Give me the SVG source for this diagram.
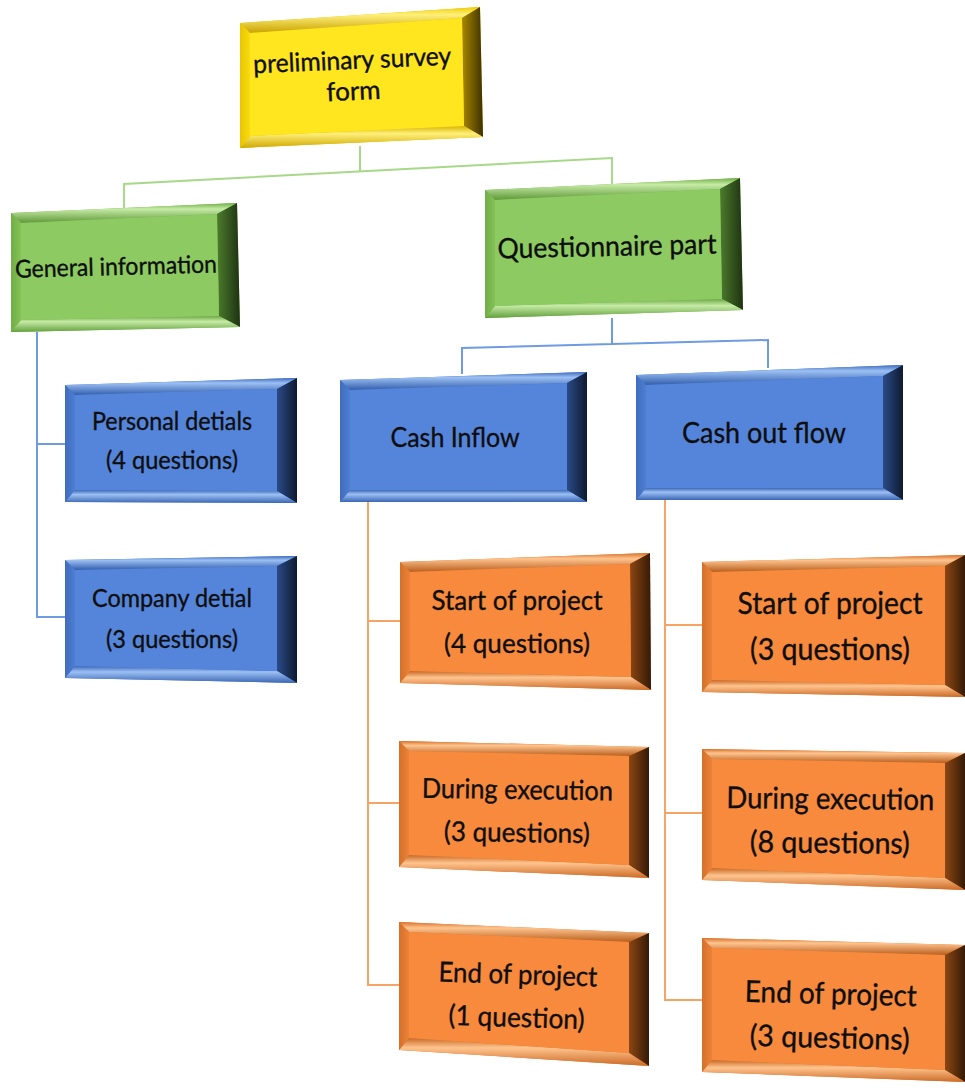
<svg xmlns="http://www.w3.org/2000/svg" width="965" height="1089" viewBox="0 0 965 1089">
<defs>
<style>
.t{font-family:Lato,"Liberation Sans",sans-serif;fill:#0E0E0E;stroke:#0E0E0E;stroke-width:0.35;text-anchor:middle}
.cg{fill:none;stroke:#A8D88A;stroke-width:2}
.cb{fill:none;stroke:#6F9BE2;stroke-width:2}
.co{fill:none;stroke:#F5A466;stroke-width:2}
.yF{fill:#FFE61E}.gF{fill:#8DCB62}.bF{fill:#5585DA}.oF{fill:#F78A3C}
.yB{fill:#E2C000}.gB{fill:#76B24C}.bB{fill:#4673C6}.oB{fill:#DC762C}
</style>
<linearGradient id="yTop" x1="0" y1="0" x2="0" y2="1"><stop offset="0" stop-color="#F0CC00"/><stop offset="0.3" stop-color="#FFF07A"/><stop offset="1" stop-color="#C9A200"/></linearGradient>
<linearGradient id="yBot" x1="0" y1="0" x2="0" y2="1"><stop offset="0" stop-color="#D8B400"/><stop offset="0.35" stop-color="#FFF07A"/><stop offset="1" stop-color="#D0A800"/></linearGradient>
<linearGradient id="yLeft" x1="0" y1="0" x2="1" y2="0"><stop offset="0" stop-color="#E8C400"/><stop offset="1" stop-color="#F8DC10"/></linearGradient>
<linearGradient id="yRight" x1="0" y1="0" x2="1" y2="0"><stop offset="0" stop-color="#A88800"/><stop offset="1" stop-color="#3E3000"/></linearGradient>
<linearGradient id="gTop" x1="0" y1="0" x2="0" y2="1"><stop offset="0" stop-color="#6FAE44"/><stop offset="0.3" stop-color="#C6EBA6"/><stop offset="1" stop-color="#5E9838"/></linearGradient>
<linearGradient id="gBot" x1="0" y1="0" x2="0" y2="1"><stop offset="0" stop-color="#6CA844"/><stop offset="0.35" stop-color="#C6EBA6"/><stop offset="1" stop-color="#62A03C"/></linearGradient>
<linearGradient id="gLeft" x1="0" y1="0" x2="1" y2="0"><stop offset="0" stop-color="#70AE46"/><stop offset="1" stop-color="#84C258"/></linearGradient>
<linearGradient id="gRight" x1="0" y1="0" x2="1" y2="0"><stop offset="0" stop-color="#4C7C2C"/><stop offset="1" stop-color="#1E3212"/></linearGradient>
<linearGradient id="bTop" x1="0" y1="0" x2="0" y2="1"><stop offset="0" stop-color="#3E6CBC"/><stop offset="0.3" stop-color="#9CC0F4"/><stop offset="1" stop-color="#325EAC"/></linearGradient>
<linearGradient id="bBot" x1="0" y1="0" x2="0" y2="1"><stop offset="0" stop-color="#3C68B8"/><stop offset="0.35" stop-color="#9CC0F4"/><stop offset="1" stop-color="#3A66B4"/></linearGradient>
<linearGradient id="bLeft" x1="0" y1="0" x2="1" y2="0"><stop offset="0" stop-color="#3F6CBE"/><stop offset="1" stop-color="#4E7ED2"/></linearGradient>
<linearGradient id="bRight" x1="0" y1="0" x2="1" y2="0"><stop offset="0" stop-color="#2A4A86"/><stop offset="1" stop-color="#0E1A30"/></linearGradient>
<linearGradient id="oTop" x1="0" y1="0" x2="0" y2="1"><stop offset="0" stop-color="#D8702A"/><stop offset="0.3" stop-color="#FFC48E"/><stop offset="1" stop-color="#B85E1E"/></linearGradient>
<linearGradient id="oBot" x1="0" y1="0" x2="0" y2="1"><stop offset="0" stop-color="#C86826"/><stop offset="0.35" stop-color="#FFC48E"/><stop offset="1" stop-color="#CC6A26"/></linearGradient>
<linearGradient id="oLeft" x1="0" y1="0" x2="1" y2="0"><stop offset="0" stop-color="#D4702A"/><stop offset="1" stop-color="#EC8238"/></linearGradient>
<linearGradient id="oRight" x1="0" y1="0" x2="1" y2="0"><stop offset="0" stop-color="#8C4614"/><stop offset="1" stop-color="#341A06"/></linearGradient>
</defs>

<g id="connectors">
<path class="cg" d="M360,146 V171 M124,209 V184 L612,158 V188"/>
<path class="cb" d="M612,318 V344 M462,374 V348 L768,340 V368"/>
<path class="cb" d="M37,332 V617 H66 M37,444 H66"/>
<path class="co" d="M368,502 V985 H400 M368,621 H400 M368,803 H400"/>
<path class="co" d="M665,500 V1000 H703 M665,625 H703 M665,813 H703"/>
</g>

<g id="node-preliminary">
<polygon class="yB" points="240,23 480,7 483,137 240,148"/>
<polygon fill="url(#yTop)" points="240,23 480,7 462,18 250,33"/>
<polygon fill="url(#yRight)" points="480,7 483,137 464,126 462,18"/>
<polygon fill="url(#yBot)" points="250,136 464,126 483,137 240,148"/>
<polygon fill="url(#yLeft)" points="240,23 250,33 250,136 240,148"/>
<polygon class="yF" points="250,33 462,18 464,126 250,136"/>
<g transform="rotate(-2.5 353 80)">
<text class="t" x="353" y="69" font-size="26" textLength="198" lengthAdjust="spacingAndGlyphs">preliminary survey</text>
<text class="t" x="353" y="100" font-size="26">form</text>
</g>
</g>

<g id="node-general">
<polygon class="gB" points="11,213 237,203 240,327 11,332"/>
<polygon fill="url(#gTop)" points="11,213 237,203 217,214 21,223"/>
<polygon fill="url(#gRight)" points="237,203 240,327 219,316 217,214"/>
<polygon fill="url(#gBot)" points="21,320 219,316 240,327 11,332"/>
<polygon fill="url(#gLeft)" points="11,213 21,223 21,320 11,332"/>
<polygon class="gF" points="21,223 217,214 219,316 21,320"/>
<text class="t" x="116" y="275" font-size="24.5" textLength="202" lengthAdjust="spacingAndGlyphs" transform="rotate(-1.5 116 268)">General information</text>
</g>

<g id="node-questionnaire">
<polygon class="gB" points="485,190 740,178 743,310 485,318"/>
<polygon fill="url(#gTop)" points="485,190 740,178 720,189 495,200"/>
<polygon fill="url(#gRight)" points="740,178 743,310 722,299 720,189"/>
<polygon fill="url(#gBot)" points="495,306 722,299 743,310 485,318"/>
<polygon fill="url(#gLeft)" points="485,190 495,200 495,306 485,318"/>
<polygon class="gF" points="495,200 720,189 722,299 495,306"/>
<text class="t" x="607" y="256" font-size="28" textLength="219" lengthAdjust="spacingAndGlyphs" transform="rotate(-1.3 607 248)">Questionnaire part</text>
</g>

<g id="node-personal">
<polygon class="bB" points="65,385 297,378 297,503 65,502"/>
<polygon fill="url(#bTop)" points="65,385 297,378 277,389 75,395"/>
<polygon fill="url(#bRight)" points="297,378 297,503 277,491 277,389"/>
<polygon fill="url(#bBot)" points="75,490 277,491 297,503 65,502"/>
<polygon fill="url(#bLeft)" points="65,385 75,395 75,490 65,502"/>
<polygon class="bF" points="75,395 277,389 277,491 75,490"/>
<text class="t" x="172" y="430" font-size="25" textLength="160" lengthAdjust="spacingAndGlyphs">Personal detials</text>
<text class="t" x="172" y="469" font-size="25" textLength="132" lengthAdjust="spacingAndGlyphs">(4 questions)</text>
</g>

<g id="node-company">
<polygon class="bB" points="65,560 297,556 297,683 65,678"/>
<polygon fill="url(#bTop)" points="65,560 297,556 277,566 75,570"/>
<polygon fill="url(#bRight)" points="297,556 297,683 277,671 277,566"/>
<polygon fill="url(#bBot)" points="75,666 277,671 297,683 65,678"/>
<polygon fill="url(#bLeft)" points="65,560 75,570 75,666 65,678"/>
<polygon class="bF" points="75,570 277,566 277,671 75,666"/>
<text class="t" x="172" y="607" font-size="25" textLength="160" lengthAdjust="spacingAndGlyphs">Company detial</text>
<text class="t" x="172" y="648" font-size="25" textLength="132" lengthAdjust="spacingAndGlyphs">(3 questions)</text>
</g>

<g id="node-cash-inflow">
<polygon class="bB" points="340,380 587,372 587,502 340,502"/>
<polygon fill="url(#bTop)" points="340,380 587,372 567,383 350,390"/>
<polygon fill="url(#bRight)" points="587,372 587,502 567,490 567,383"/>
<polygon fill="url(#bBot)" points="350,490 567,490 587,502 340,502"/>
<polygon fill="url(#bLeft)" points="340,380 350,390 350,490 340,502"/>
<polygon class="bF" points="350,390 567,383 567,490 350,490"/>
<text class="t" x="455" y="447" font-size="27.4" textLength="129" lengthAdjust="spacingAndGlyphs">Cash Inflow</text>
</g>

<g id="node-cash-outflow">
<polygon class="bB" points="636,375 903,365 903,500 636,500"/>
<polygon fill="url(#bTop)" points="636,375 903,365 883,376 646,385"/>
<polygon fill="url(#bRight)" points="903,365 903,500 883,488 883,376"/>
<polygon fill="url(#bBot)" points="646,488 883,488 903,500 636,500"/>
<polygon fill="url(#bLeft)" points="636,375 646,385 646,488 636,500"/>
<polygon class="bF" points="646,385 883,376 883,488 646,488"/>
<text class="t" x="764" y="443" font-size="29.6" textLength="164" lengthAdjust="spacingAndGlyphs">Cash out flow</text>
</g>

<g id="node-in-start">
<polygon class="oB" points="400,562 650,553 651,690 400,683"/>
<polygon fill="url(#oTop)" points="400,562 650,553 630,564 410,572"/>
<polygon fill="url(#oRight)" points="650,553 651,690 631,677 630,564"/>
<polygon fill="url(#oBot)" points="410,671 631,677 651,690 400,683"/>
<polygon fill="url(#oLeft)" points="400,562 410,572 410,671 400,683"/>
<polygon class="oF" points="410,572 630,564 631,677 410,671"/>
<text class="t" x="517" y="610" font-size="27.9" textLength="171" lengthAdjust="spacingAndGlyphs">Start of project</text>
<text class="t" x="517" y="653" font-size="27.6" textLength="146" lengthAdjust="spacingAndGlyphs">(4 questions)</text>
</g>

<g id="node-in-during">
<polygon class="oB" points="399,741 649,747 649,878 399,867"/>
<polygon fill="url(#oTop)" points="399,741 649,747 629,756 409,751"/>
<polygon fill="url(#oRight)" points="649,747 649,878 629,865 629,756"/>
<polygon fill="url(#oBot)" points="409,855 629,865 649,878 399,867"/>
<polygon fill="url(#oLeft)" points="399,741 409,751 409,855 399,867"/>
<polygon class="oF" points="409,751 629,756 629,865 409,855"/>
<g transform="rotate(0.8 517 820)">
<text class="t" x="517" y="799" font-size="27.5" textLength="191" lengthAdjust="spacingAndGlyphs">During execution</text>
<text class="t" x="517" y="842" font-size="27.5" textLength="146" lengthAdjust="spacingAndGlyphs">(3 questions)</text>
</g>
</g>

<g id="node-in-end">
<polygon class="oB" points="399,922 649,933 649,1066 399,1050"/>
<polygon fill="url(#oTop)" points="399,922 649,933 629,942 409,932"/>
<polygon fill="url(#oRight)" points="649,933 649,1066 629,1053 629,942"/>
<polygon fill="url(#oBot)" points="409,1038 629,1053 649,1066 399,1050"/>
<polygon fill="url(#oLeft)" points="399,922 409,932 409,1038 399,1050"/>
<polygon class="oF" points="409,932 629,942 629,1053 409,1038"/>
<g transform="rotate(1.8 517 1005)">
<text class="t" x="517" y="984" font-size="27.8" textLength="159" lengthAdjust="spacingAndGlyphs">End of project</text>
<text class="t" x="517" y="1027" font-size="27.8" textLength="136" lengthAdjust="spacingAndGlyphs">(1 question)</text>
</g>
</g>

<g id="node-out-start">
<polygon class="oB" points="702,562 965,555 965,697 702,692"/>
<polygon fill="url(#oTop)" points="702,562 965,555 945,566 712,572"/>
<polygon fill="url(#oRight)" points="965,555 965,697 945,685 945,566"/>
<polygon fill="url(#oBot)" points="712,680 945,685 965,697 702,692"/>
<polygon fill="url(#oLeft)" points="702,562 712,572 712,680 702,692"/>
<polygon class="oF" points="712,572 945,566 945,685 712,680"/>
<text class="t" x="830" y="614" font-size="30.1" textLength="185" lengthAdjust="spacingAndGlyphs">Start of project</text>
<text class="t" x="830" y="660" font-size="30.1" textLength="160" lengthAdjust="spacingAndGlyphs">(3 questions)</text>
</g>

<g id="node-out-during">
<polygon class="oB" points="702,749 965,753 965,890 702,880"/>
<polygon fill="url(#oTop)" points="702,749 965,753 945,763 712,759"/>
<polygon fill="url(#oRight)" points="965,753 965,890 945,878 945,763"/>
<polygon fill="url(#oBot)" points="712,868 945,878 965,890 702,880"/>
<polygon fill="url(#oLeft)" points="702,749 712,759 712,868 702,880"/>
<polygon class="oF" points="712,759 945,763 945,878 712,868"/>
<g transform="rotate(0.6 830 830)">
<text class="t" x="830" y="809" font-size="30" textLength="208" lengthAdjust="spacingAndGlyphs">During execution</text>
<text class="t" x="830" y="853" font-size="30" textLength="160" lengthAdjust="spacingAndGlyphs">(8 questions)</text>
</g>
</g>

<g id="node-out-end">
<polygon class="oB" points="702,938 965,945 965,1082 702,1072"/>
<polygon fill="url(#oTop)" points="702,938 965,945 945,955 712,948"/>
<polygon fill="url(#oRight)" points="965,945 965,1082 945,1070 945,955"/>
<polygon fill="url(#oBot)" points="712,1060 945,1070 965,1082 702,1072"/>
<polygon fill="url(#oLeft)" points="702,938 712,948 712,1060 702,1072"/>
<polygon class="oF" points="712,948 945,955 945,1070 712,1060"/>
<g transform="rotate(1.5 830 1025)">
<text class="t" x="830" y="1004" font-size="30" textLength="172" lengthAdjust="spacingAndGlyphs">End of project</text>
<text class="t" x="830" y="1048" font-size="30" textLength="160" lengthAdjust="spacingAndGlyphs">(3 questions)</text>
</g>
</g>
</svg>
